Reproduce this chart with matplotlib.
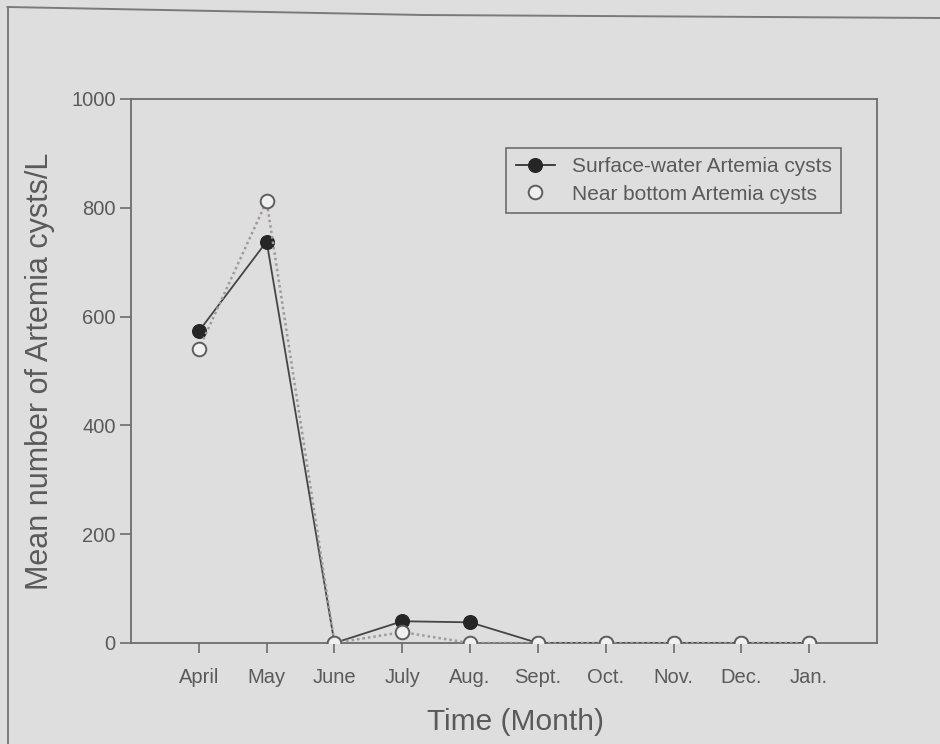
import matplotlib
matplotlib.use("Agg")
import matplotlib.pyplot as plt
from matplotlib.lines import Line2D

months = ["April", "May", "June", "July", "Aug.", "Sept.", "Oct.", "Nov.", "Dec.", "Jan."]
surface_cysts = [573, 738, 0, 40, 38, 0, 0, 0, 0, 0]
bottom_cysts = [540, 812, 0, 20, 0, 0, 0, 0, 0, 0]
y_ticks = [0, 200, 400, 600, 800, 1000]

BG = "#dedede"
INK = "#5a5a5a"
SPINE = "#6c6c6c"

plt.rcParams["font.family"] = ["Liberation Sans", "DejaVu Sans"]

fig = plt.figure(figsize=(9.4, 7.44), dpi=100, facecolor=BG)
ax = fig.add_axes([131 / 940, 1 - 643 / 744, (877 - 131) / 940, (643 - 99) / 744])
ax.set_facecolor(BG)

x = list(range(len(months)))

ax.plot(x, surface_cysts, color="#454545", lw=1.3, marker="o", ms=9.8,
        mfc="#262626", mec="#262626", zorder=3)
ax.plot(x, bottom_cysts, color="#a09a9c", lw=1.8, ls=(0, (1, 1.2)),
        marker="o", ms=9.8, mfc="#f0f0f0", mec="#5e5e5e", mew=1.4, zorder=4)

ax.set_xlim(-1, 10)
ax.set_ylim(0, 1000)
ax.set_xticks(x)
ax.set_xticklabels(months)
ax.set_yticks(y_ticks)

for s in ax.spines.values():
    s.set_color(SPINE)
    s.set_linewidth(1.3)

ax.tick_params(axis="both", direction="out", colors=SPINE, labelcolor=INK,
               labelsize=14.5, width=1.2)
ax.tick_params(axis="y", length=8, pad=3)
ax.tick_params(axis="x", length=7, pad=11)

ax.set_ylabel("Mean number of Artemia cysts/L", fontsize=22, color=INK, labelpad=12)
ax.set_xlabel("Time (Month)", fontsize=21.5, color=INK)
ax.xaxis.set_label_coords(0.515, -0.119)

handles = [
    Line2D([], [], color="#333333", lw=1.3, marker="o", ms=9.8,
           mfc="#262626", mec="#262626"),
    Line2D([], [], ls="none", marker="o", ms=9.8, mfc="#f0f0f0",
           mec="#5e5e5e", mew=1.4),
]
leg = ax.legend(handles, ["Surface-water Artemia cysts", "Near bottom Artemia cysts"],
                loc="upper right", bbox_to_anchor=(0.952, 0.91), borderaxespad=0,
                fontsize=15, frameon=True, fancybox=False, framealpha=1,
                facecolor=BG, edgecolor=SPINE, handlelength=1.9,
                handletextpad=0.8, borderpad=0.45, labelspacing=0.4)
leg.get_frame().set_linewidth(1.2)
for t in leg.get_texts():
    t.set_color(INK)

# page border of the printed sheet
fig.add_artist(Line2D([0.008, 0.45, 1.0], [1 - 7 / 744, 1 - 15 / 744, 1 - 18 / 744],
                      transform=fig.transFigure, color="#7a7a7a", lw=1.4))
fig.add_artist(Line2D([0.008, 0.008], [1 - 7 / 744, 0.0],
                      transform=fig.transFigure, color="#7a7a7a", lw=1.4))

fig.savefig("out.png", dpi=100, facecolor=BG)
